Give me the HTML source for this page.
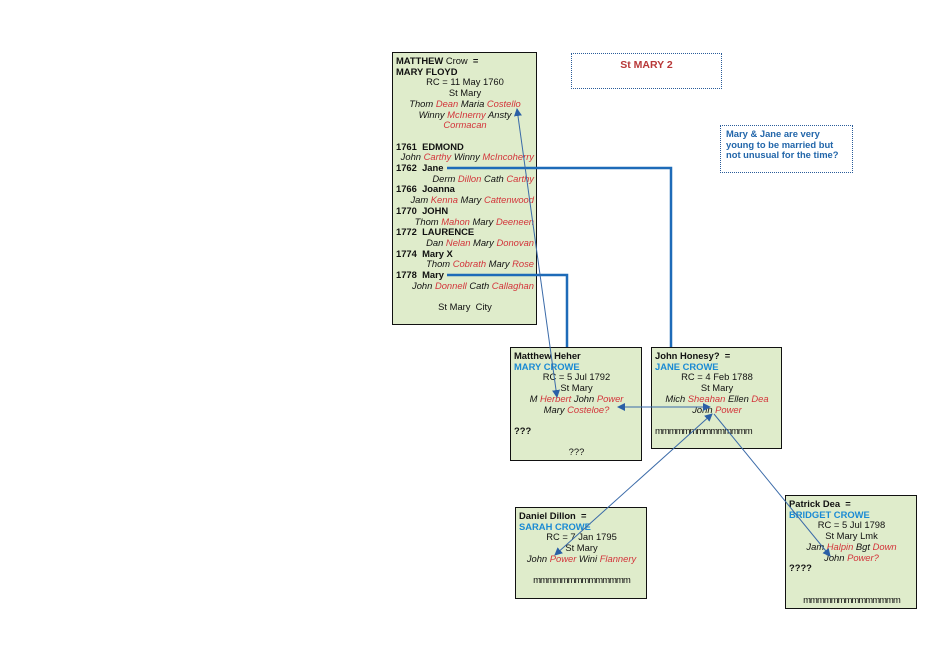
<!DOCTYPE html>
<html><head><meta charset="utf-8"><style>
body{margin:0;background:#fff;width:950px;height:672px;position:relative;overflow:hidden;font-family:"Liberation Sans",sans-serif;font-size:9.4px;color:#111}
.b{position:absolute;background:#dfeccb;border:1.3px solid #111;box-sizing:border-box;line-height:10.7px;padding:3px 2px 0 3px}
.c{text-align:center}
.r{color:#d3343a}
.bl{color:#1a8ad4;font-weight:bold}
.i{font-style:italic}
b{font-weight:bold}
.m{letter-spacing:-0.9px}
.n{position:absolute;border:1.3px dotted #2a5c9a;box-sizing:border-box}
</style></head><body>
<div class="b" style="left:392px;top:52px;width:145px;height:273px">
<b>MATTHEW</b> Crow &nbsp;<b>=</b><br><b>MARY FLOYD</b>
<div class="c">RC = 11 May 1760<br>St Mary<br><span class="i">Thom <span class="r">Dean</span> Maria <span class="r">Costello</span><br>Winny <span class="r">McInerny</span> Ansty<br><span class="r">Cormacan</span></span></div>
<br>
<b>1761 &nbsp;EDMOND</b>
<div class="i" style="text-align:right">John <span class="r">Carthy</span> Winny <span class="r">McIncoherry</span></div>
<b>1762 &nbsp;Jane</b>
<div class="i" style="text-align:right">Derm <span class="r">Dillon</span> Cath <span class="r">Carthy</span></div>
<b>1766 &nbsp;Joanna</b>
<div class="i" style="text-align:right">Jam <span class="r">Kenna</span> Mary <span class="r">Cattenwood</span></div>
<b>1770 &nbsp;JOHN</b>
<div class="i" style="text-align:right">Thom <span class="r">Mahon</span> Mary <span class="r">Deeneen</span></div>
<b>1772 &nbsp;LAURENCE</b>
<div class="i" style="text-align:right">Dan <span class="r">Nelan</span> Mary <span class="r">Donovan</span></div>
<b>1774 &nbsp;Mary X</b>
<div class="i" style="text-align:right">Thom <span class="r">Cobrath</span> Mary <span class="r">Rose</span></div>
<b>1778 &nbsp;Mary</b>
<div class="i" style="text-align:right">John <span class="r">Donnell</span> Cath <span class="r">Callaghan</span></div>
<br><div class="c">St Mary &nbsp;City</div>
</div>

<div class="b" style="left:510px;top:347px;width:132px;height:114px">
<b>Matthew Heher</b><br><span class="bl">MARY CROWE</span>
<div class="c">RC = 5 Jul 1792<br>St Mary<br><span class="i">M <span class="r">Herbert</span> John <span class="r">Power</span><br>Mary <span class="r">Costeloe?</span></span></div>
<br><b>???</b><br><br><div class="c">???</div>
</div>

<div class="b" style="left:651px;top:347px;width:131px;height:102px">
<b>John Honesy? &nbsp;=</b><br><span class="bl">JANE CROWE</span>
<div class="c">RC = 4 Feb 1788<br>St Mary<br><span class="i">Mich <span class="r">Sheahan</span> Ellen <span class="r">Dea</span><br>John <span class="r">Power</span></span></div>
<br><span class="m">mmmmmmmmmmmmmm</span>
</div>

<div class="b" style="left:515px;top:507px;width:132px;height:92px">
<b>Daniel Dillon &nbsp;=</b><br><span class="bl">SARAH CROWE</span>
<div class="c">RC = 7 Jan 1795<br>St Mary<br><span class="i">John <span class="r">Power</span> Wini <span class="r">Flannery</span></span></div>
<br><div class="c m">mmmmmmmmmmmmmm</div>
</div>

<div class="b" style="left:785px;top:495px;width:132px;height:114px">
<b>Patrick Dea &nbsp;=</b><br><span class="bl">BRIDGET CROWE</span>
<div class="c">RC = 5 Jul 1798<br>St Mary Lmk<br><span class="i">Jam <span class="r">Halpin</span> Bgt <span class="r">Down</span><br>John <span class="r">Power?</span></span></div>
<b>????</b><br><br><br><div class="c m">mmmmmmmmmmmmmm</div>
</div>

<div class="n" style="left:571px;top:53px;width:151px;height:36px;text-align:center;padding-top:5px;font-size:10.5px;font-weight:bold;color:#b83838">St MARY 2</div>
<div class="n" style="left:720px;top:125px;width:133px;height:48px;padding:3px 0 0 5px;font-weight:bold;color:#2266aa;line-height:10.5px">Mary &amp; Jane are very<br>young to be married but<br>not unusual for the time?</div>

<svg width="950" height="672" style="position:absolute;left:0;top:0" xmlns="http://www.w3.org/2000/svg">
<defs><marker id="a" markerWidth="8" markerHeight="8" refX="7" refY="4" orient="auto-start-reverse" markerUnits="userSpaceOnUse"><path d="M0,0 L8,4 L0,8 z" fill="#2a5fa6"/></marker></defs>
<polyline points="447,168 671,168 671,347" fill="none" stroke="#1e6bb8" stroke-width="2.5"/>
<polyline points="447,275 567,275 567,347" fill="none" stroke="#1e6bb8" stroke-width="2.5"/>
<g stroke="#3a6aa8" stroke-width="1" fill="none">
<line x1="517" y1="109" x2="557" y2="397" marker-start="url(#a)" marker-end="url(#a)"/>
<line x1="618" y1="407" x2="710" y2="407" marker-start="url(#a)" marker-end="url(#a)"/>
<line x1="712" y1="414" x2="555" y2="555" marker-start="url(#a)" marker-end="url(#a)"/>
<line x1="714" y1="414" x2="830" y2="556" marker-end="url(#a)"/>
</g>
</svg>
</body></html>
